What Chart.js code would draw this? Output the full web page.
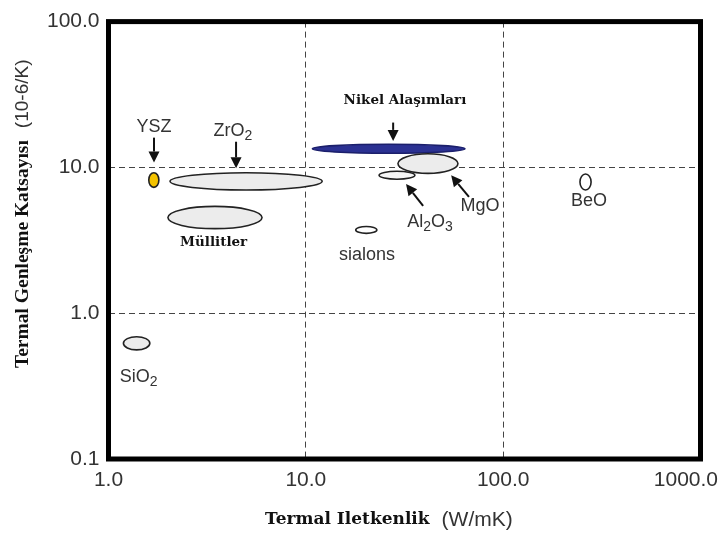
<!DOCTYPE html>
<html><head><meta charset="utf-8">
<script src="https://cdn.jsdelivr.net/npm/chart.js@4/dist/chart.umd.min.js"></script>
<style>html,body{margin:0;padding:0;background:#fff}#wrap{width:719px;height:536px;position:relative}</style>
</head><body><div id="wrap"><canvas id="c" width="719" height="536"></canvas></div>
<script>
// Axis ticks
const xTicks = [1, 10, 100, 1000];
const yTicks = [0.1, 1, 10, 100];
// Materials: thermal conductivity range (W/mK) and thermal expansion range (10-6/K)
const materials = ['YSZ', 'ZrO2', 'Müllitler', 'Nikel Alaşımları', 'MgO', 'Al2O3', 'sialons', 'BeO', 'SiO2'];
const kMin = [1.6, 2.05, 2.0, 10.8, 29.3, 23.5, 17.9, 245, 1.19];
const kMax = [1.8, 12.1, 6.0, 64, 59, 35.7, 22.9, 279, 1.62];
const aMin = [7.3, 7.0, 3.8, 12.5, 9.1, 8.3, 3.53, 7.0, 0.56];
const aMax = [9.2, 9.2, 5.4, 14.4, 12.4, 9.4, 3.93, 9.0, 0.69];
const fills = ['#f4c300', '#ececec', '#ececec', '#2b3192', '#ececec', '#f7f7f7', '#ffffff', '#ffffff', '#ececec'];
const strokes = ['#222', '#222', '#222', '#1b1f6b', '#222', '#222', '#222', '#222', '#222'];
// Labels (data coordinates)
const labelText = ['YSZ', 'ZrO_2', 'Müllitler', 'Nikel Alaşımları', 'MgO', 'Al_2O_3', 'sialons', 'BeO', 'SiO_2'];
const labelX = [1.70, 4.27, 3.41, 31.8, 76.4, 42.6, 20.4, 272, 1.42];
const labelY = [19.2, 18.1, 3.07, 28.7, 5.54, 4.32, 2.54, 5.96, 0.373];
const labelBold = [false, false, true, true, false, false, false, false, false];
// Arrows (data coordinates)
const arrowFromX = [1.70, 4.43, 27.7, 39.3, 67.1];
const arrowFromY = [16.0, 15.0, 20.3, 5.45, 6.27];
const arrowToX = [1.70, 4.43, 27.7, 32.2, 54.5];
const arrowToY = [10.8, 9.85, 15.2, 7.68, 8.83];

const SANS = '"Liberation Sans", Arial, sans-serif';
const SERIF_B = '"DejaVu Serif", serif';

const centers = materials.map((m, i) => ({ x: Math.sqrt(kMin[i] * kMax[i]), y: Math.sqrt(aMin[i] * aMax[i]) }));

function drawRich(ctx, text, x, y, size, color) {
  const parts = [];
  for (let i = 0; i < text.length; i++) {
    if (text[i] === '_' && i + 1 < text.length) { parts.push({ t: text[i + 1], sub: true }); i++; }
    else {
      if (parts.length && !parts[parts.length - 1].sub) parts[parts.length - 1].t += text[i];
      else parts.push({ t: text[i], sub: false });
    }
  }
  const subSize = Math.round(size * 0.75);
  let total = 0;
  parts.forEach(p => { ctx.font = (p.sub ? subSize : size) + 'px ' + SANS; p.w = ctx.measureText(p.t).width; total += p.w; });
  let cx = x - total / 2;
  ctx.fillStyle = color;
  ctx.textAlign = 'left';
  ctx.textBaseline = 'alphabetic';
  const base = y + size * 0.35;
  parts.forEach(p => {
    ctx.font = (p.sub ? subSize : size) + 'px ' + SANS;
    ctx.fillText(p.t, cx, p.sub ? base + size * 0.22 : base);
    cx += p.w;
  });
}

function drawArrow(ctx, x1, y1, x2, y2) {
  const ang = Math.atan2(y2 - y1, x2 - x1);
  const hl = 11, hw = 5.5;
  const bx = x2 - hl * Math.cos(ang), by = y2 - hl * Math.sin(ang);
  ctx.strokeStyle = '#111'; ctx.fillStyle = '#111'; ctx.lineWidth = 2;
  ctx.beginPath(); ctx.moveTo(x1, y1); ctx.lineTo(bx, by); ctx.stroke();
  ctx.beginPath();
  ctx.moveTo(x2, y2);
  ctx.lineTo(bx + hw * Math.sin(ang), by - hw * Math.cos(ang));
  ctx.lineTo(bx - hw * Math.sin(ang), by + hw * Math.cos(ang));
  ctx.closePath(); ctx.fill();
}

const matPlugin = {
  id: 'mat',
  beforeDatasetsDraw(chart) {
    const ctx = chart.ctx, xs = chart.scales.x, ys = chart.scales.y;
    ctx.save();
    materials.forEach((m, i) => {
      const x1 = xs.getPixelForValue(kMin[i]), x2 = xs.getPixelForValue(kMax[i]);
      const y1 = ys.getPixelForValue(aMax[i]), y2 = ys.getPixelForValue(aMin[i]);
      ctx.beginPath();
      ctx.ellipse((x1 + x2) / 2, (y1 + y2) / 2, Math.abs(x2 - x1) / 2, Math.abs(y2 - y1) / 2, 0, 0, Math.PI * 2);
      ctx.fillStyle = fills[i]; ctx.fill();
      ctx.lineWidth = 1.6; ctx.strokeStyle = strokes[i]; ctx.stroke();
    });
    ctx.restore();
  },
  afterDraw(chart) {
    const ctx = chart.ctx, xs = chart.scales.x, ys = chart.scales.y, a = chart.chartArea;
    ctx.save();
    ctx.lineWidth = 5; ctx.strokeStyle = '#000';
    ctx.strokeRect(a.left, a.top, a.right - a.left, a.bottom - a.top);
    labelText.forEach((t, i) => {
      const px = xs.getPixelForValue(labelX[i]), py = ys.getPixelForValue(labelY[i]);
      if (labelBold[i]) {
        ctx.font = 'bold 13.5px ' + SERIF_B;
        ctx.fillStyle = '#111'; ctx.textAlign = 'center'; ctx.textBaseline = 'middle';
        ctx.fillText(t, px, py);
      } else {
        drawRich(ctx, t, px, py, 18, '#333');
      }
    });
    arrowFromX.forEach((v, i) => {
      drawArrow(ctx, xs.getPixelForValue(arrowFromX[i]), ys.getPixelForValue(arrowFromY[i]),
        xs.getPixelForValue(arrowToX[i]), ys.getPixelForValue(arrowToY[i]));
    });
    ctx.font = '21px ' + SANS; ctx.fillStyle = '#333'; ctx.textAlign = 'center'; ctx.textBaseline = 'middle';
    xTicks.forEach(v => {
      const lbl = v.toFixed(1);
      const w = ctx.measureText(lbl).width;
      let px = xs.getPixelForValue(v);
      px = Math.min(px, chart.width - w / 2 - 1);
      ctx.fillText(lbl, px, a.bottom + 21);
    });
    ctx.textAlign = 'left';
    ctx.font = 'bold 17px ' + SERIF_B; ctx.fillStyle = '#111';
    const xt1 = 'Termal Iletkenlik';
    ctx.fillText(xt1, 265, 520);
    const w1 = ctx.measureText(xt1).width;
    ctx.font = '21px ' + SANS; ctx.fillStyle = '#333';
    ctx.fillText('(W/mK)', 265 + w1 + 12, 520);
    ctx.translate(23, 368); ctx.rotate(-Math.PI / 2);
    ctx.font = 'bold 19.5px "Liberation Serif", serif'; ctx.fillStyle = '#111';
    const yt1 = 'Termal Genleşme Katsayısı';
    ctx.fillText(yt1, 0, 0);
    const w2 = ctx.measureText(yt1).width;
    ctx.font = '19px ' + SANS; ctx.fillStyle = '#333';
    ctx.fillText('(10-6/K)', w2 + 12, 0);
    ctx.restore();
  }
};

new Chart(document.getElementById('c'), {
  type: 'scatter',
  data: { datasets: [{ data: centers, pointRadius: 0, pointHoverRadius: 0 }] },
  options: {
    responsive: false, animation: false, events: [],
    layout: { padding: { top: 19, right: 18.5, left: 0, bottom: 0 } },
    plugins: { legend: { display: false }, tooltip: { enabled: false } },
    scales: {
      x: {
        type: 'logarithmic', min: 1, max: 1000,
        afterBuildTicks: s => { s.ticks = xTicks.map(v => ({ value: v })); },
        afterFit: s => { s.height = 77; },
        ticks: { display: false },
        grid: { color: c => (c.tick && (c.tick.value === 10 || c.tick.value === 100)) ? '#444' : 'rgba(0,0,0,0)', lineWidth: 1, drawTicks: false },
        border: { display: false, dash: [6, 4] }
      },
      y: {
        type: 'logarithmic', min: 0.1, max: 100,
        afterBuildTicks: s => { s.ticks = yTicks.map(v => ({ value: v })); },
        afterFit: s => { s.width = 108.5; },
        ticks: { padding: 9, color: '#333', font: { family: SANS, size: 21 }, callback: v => Number(v).toFixed(1) },
        grid: { color: c => (c.tick && (c.tick.value === 10 || c.tick.value === 1)) ? '#444' : 'rgba(0,0,0,0)', lineWidth: 1, drawTicks: false },
        border: { display: false, dash: [6, 4] }
      }
    }
  },
  plugins: [matPlugin]
});
</script>
</body></html>
